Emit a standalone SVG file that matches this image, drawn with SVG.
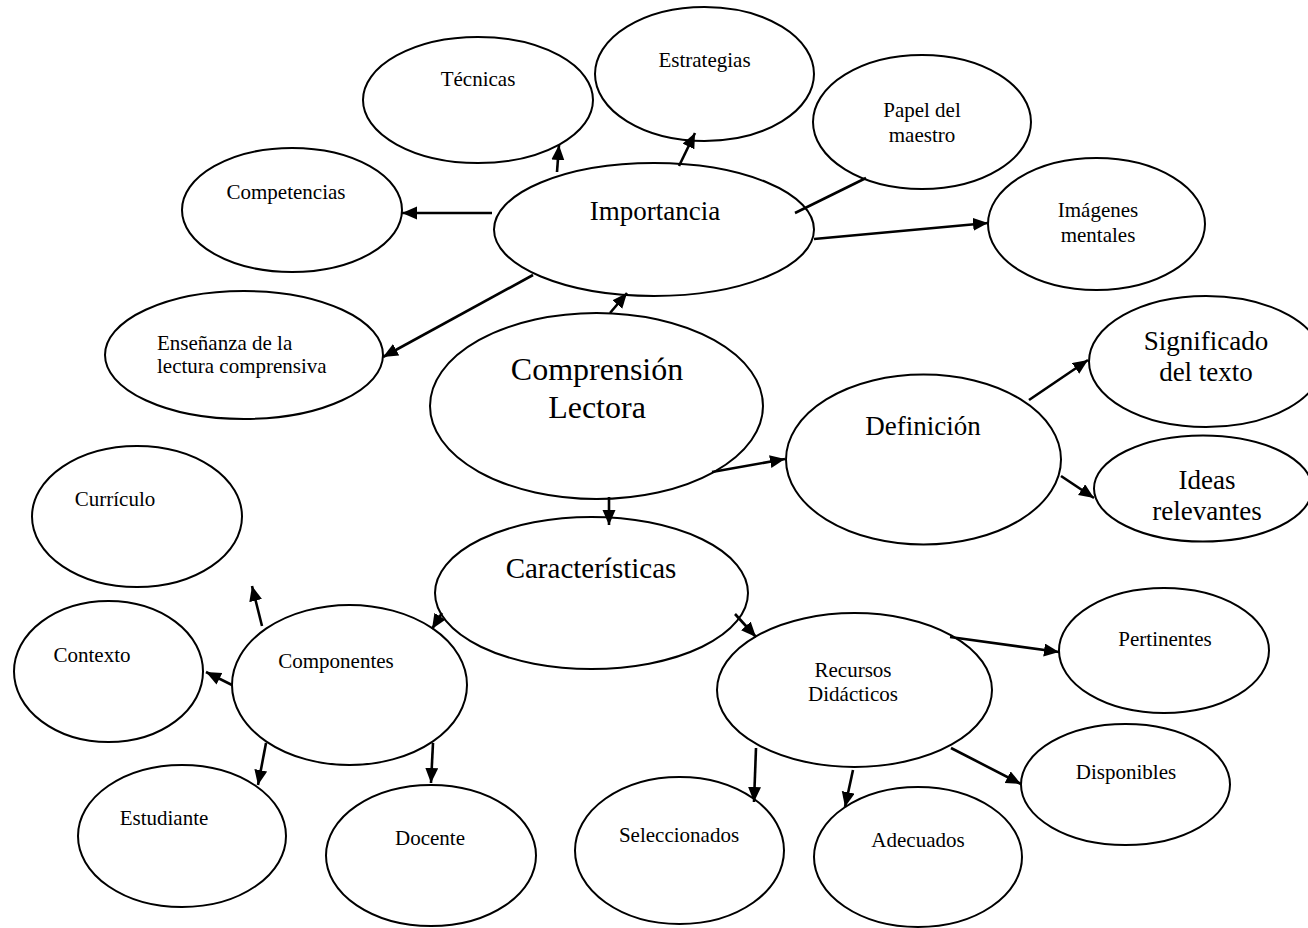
<svg xmlns="http://www.w3.org/2000/svg" width="1308" height="928" viewBox="0 0 1308 928">
<style>
.n{fill:#fff;stroke:#000;stroke-width:2}
text{font-family:"Liberation Serif","Times New Roman",serif;fill:#000;text-anchor:middle}
.s{font-size:21px}
.m{font-size:27px}
.l{font-size:32px}
.c line{stroke:#000;stroke-width:2.6}
</style>
<defs>
<marker id="ah" markerUnits="userSpaceOnUse" markerWidth="16" markerHeight="14" refX="15" refY="6.5" orient="auto">
<path d="M0,0 L15,6.5 L0,13 z" fill="#000"/>
</marker>
</defs>
<rect width="1308" height="928" fill="#fff"/>
<g id="tecnicas"><ellipse class="n" cx="478" cy="100" rx="115" ry="63"/><text class="s" x="478" y="86">Técnicas</text></g>
<g id="estrategias"><ellipse class="n" cx="704.5" cy="74" rx="109.5" ry="67"/><text class="s" x="704.5" y="67">Estrategias</text></g>
<g id="papel"><ellipse class="n" cx="922" cy="122" rx="109" ry="67"/><text class="s" x="922" y="117">Papel del</text><text class="s" x="922" y="142">maestro</text></g>
<g id="imagenes"><ellipse class="n" cx="1096.5" cy="224" rx="108.5" ry="66"/><text class="s" x="1098" y="217">Imágenes</text><text class="s" x="1098" y="242">mentales</text></g>
<g id="competencias"><ellipse class="n" cx="292" cy="210" rx="110" ry="62"/><text class="s" x="286" y="199">Competencias</text></g>
<g id="importancia"><ellipse class="n" cx="654" cy="229.5" rx="160" ry="66.5"/><text class="m" x="655" y="220">Importancia</text></g>
<g id="ensenanza"><ellipse class="n" cx="244" cy="355" rx="139" ry="64"/><text class="s" x="157" y="350" style="text-anchor:start">Enseñanza de la</text><text class="s" x="157" y="373" style="text-anchor:start">lectura comprensiva</text></g>
<g id="comprension"><ellipse class="n" cx="596.5" cy="406" rx="166.5" ry="93"/><text class="l" x="597" y="380">Comprensión</text><text class="l" x="597" y="418">Lectora</text></g>
<g id="definicion"><ellipse class="n" cx="923.5" cy="459.5" rx="137.5" ry="85"/><text class="m" x="923" y="435">Definición</text></g>
<g id="significado"><ellipse class="n" cx="1206" cy="361.5" rx="117" ry="65.5"/><text class="m" x="1206" y="350">Significado</text><text class="m" x="1206" y="381">del texto</text></g>
<g id="ideas"><ellipse class="n" cx="1203" cy="488.5" rx="109" ry="53"/><text class="m" x="1207" y="489">Ideas</text><text class="m" x="1207" y="520">relevantes</text></g>
<g id="curriculo"><ellipse class="n" cx="137" cy="516.5" rx="105" ry="70.5"/><text class="s" x="115" y="506">Currículo</text></g>
<g id="caracteristicas"><ellipse class="n" cx="591.5" cy="593" rx="156.5" ry="76"/><text x="591" y="578" style="font-size:29px">Características</text></g>
<g id="contexto"><ellipse class="n" cx="108.5" cy="671.5" rx="94.5" ry="70.5"/><text class="s" x="92" y="662">Contexto</text></g>
<g id="componentes"><ellipse class="n" cx="349.5" cy="685" rx="117.5" ry="80"/><text class="s" x="336" y="668">Componentes</text></g>
<g id="estudiante"><ellipse class="n" cx="182" cy="836" rx="104" ry="71"/><text class="s" x="164" y="825">Estudiante</text></g>
<g id="docente"><ellipse class="n" cx="431" cy="855.5" rx="105" ry="70.5"/><text class="s" x="430" y="845">Docente</text></g>
<g id="recursos"><ellipse class="n" cx="854.5" cy="690" rx="137.5" ry="77"/><text class="s" x="853" y="677">Recursos</text><text class="s" x="853" y="701">Didácticos</text></g>
<g id="pertinentes"><ellipse class="n" cx="1164" cy="650.5" rx="105" ry="62.5"/><text class="s" x="1165" y="646">Pertinentes</text></g>
<g id="disponibles"><ellipse class="n" cx="1125.5" cy="784.5" rx="104.5" ry="60.5"/><text class="s" x="1126" y="779">Disponibles</text></g>
<g id="seleccionados"><ellipse class="n" cx="679.5" cy="850.5" rx="104.5" ry="73.5"/><text class="s" x="679" y="842">Seleccionados</text></g>
<g id="adecuados"><ellipse class="n" cx="918" cy="857" rx="104" ry="70"/><text class="s" x="918" y="847">Adecuados</text></g>
<g id="connectors" class="c">
<line x1="557" y1="172" x2="559" y2="145" marker-end="url(#ah)"/>
<line x1="679" y1="166" x2="695" y2="133" marker-end="url(#ah)"/>
<line x1="492" y1="213" x2="402" y2="213" marker-end="url(#ah)"/>
<line x1="795" y1="213" x2="866" y2="178"/>
<line x1="814" y1="239" x2="988" y2="223" marker-end="url(#ah)"/>
<line x1="533" y1="275" x2="383" y2="357" marker-end="url(#ah)"/>
<line x1="610" y1="313" x2="627" y2="293" marker-end="url(#ah)"/>
<line x1="712" y1="472" x2="785" y2="459" marker-end="url(#ah)"/>
<line x1="1029" y1="400" x2="1088" y2="360" marker-end="url(#ah)"/>
<line x1="1061" y1="476" x2="1094" y2="498" marker-end="url(#ah)"/>
<line x1="609" y1="497" x2="609" y2="525" marker-end="url(#ah)"/>
<line x1="442" y1="613" x2="432" y2="629" marker-end="url(#ah)"/>
<line x1="735" y1="614" x2="756" y2="637" marker-end="url(#ah)"/>
<line x1="262" y1="626" x2="252" y2="586" marker-end="url(#ah)"/>
<line x1="232" y1="685" x2="206" y2="672" marker-end="url(#ah)"/>
<line x1="266" y1="743" x2="258" y2="785" marker-end="url(#ah)"/>
<line x1="433" y1="743" x2="431" y2="783" marker-end="url(#ah)"/>
<line x1="950" y1="637" x2="1059" y2="652" marker-end="url(#ah)"/>
<line x1="951" y1="748" x2="1021" y2="784" marker-end="url(#ah)"/>
<line x1="756" y1="748" x2="754" y2="802" marker-end="url(#ah)"/>
<line x1="853" y1="770" x2="845" y2="807" marker-end="url(#ah)"/>
</g>
</svg>
